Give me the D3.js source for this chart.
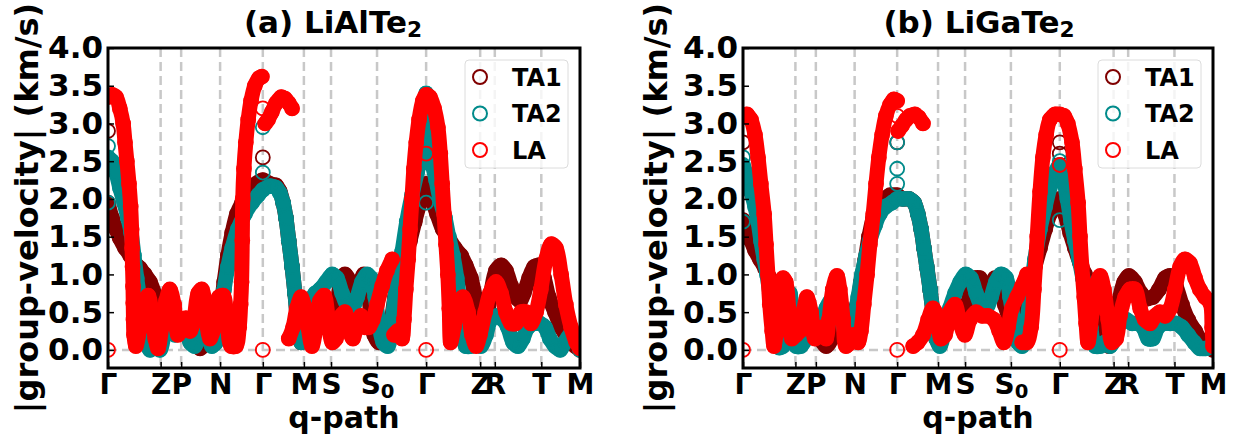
<!DOCTYPE html>
<html>
<head>
<meta charset="utf-8">
<script src="https://d3js.org/d3.v7.min.js"></script>
<style>
    body { margin: 0; background: #fff; }
    svg text { font-family: "DejaVu Sans", sans-serif; font-weight: bold; fill: #000; }
    .gridline { stroke: #c8c8c8; stroke-width: 2.5; stroke-dasharray: 9,5; }
    .axis .domain { display: none; }
    .axis line { stroke: #000; stroke-width: 1.5; }
</style>
</head>
<body>
<svg id="chart" width="1237" height="439"></svg>
<script>
// high-symmetry points along the q-path (percent of path length)
const kLabels = ["Γ", "Z", "P", "N", "Γ", "M", "S", "S_0", "Γ", "Z", "R", "T", "M"];
const kPos = [0, 11.15, 15.5, 23.75, 32.8, 41.5, 47.25, 57.0, 67.4, 78.85, 81.95, 91.8, 100];
const yTicks = [0, 0.5, 1.0, 1.5, 2.0, 2.5, 3.0, 3.5, 4.0];
const seriesNames = ["TA1", "TA2", "LA"];
const seriesColors = ["#800000", "#008b8b", "#ff0000"];

// (a) LiAlTe2 : [q, |v| km/s], null = break
const aTA1 = [[0,2.9], null,
  [0,1.95],[0.85,1.75],[1.7,1.6],[2.5,1.48],[3.6,1.35],[4.7,1.25],[5.7,1.15],[6.8,1.08],[7.8,1.0],[8.9,0.9],[10.0,0.72],[11.0,0.5],[12.1,0.35],[13.1,0.3],[14.4,0.35],[15.7,0.3],[16.9,0.2],[18.2,0.1],[19.5,0.02],[20.6,0.1],[21.4,0.4],[22.2,0.55],[23.1,0.5],[23.9,0.6],[24.6,0.9],[25.4,1.25],[26.3,1.55],[27.3,1.8],[28.4,1.95],[29.7,2.08],[30.9,2.18],[32.8,2.25],
  [34.3,2.2],[35.6,2.18],[36.4,2.1],[37.1,1.95],[37.7,1.75],[38.3,1.45],[39.0,1.1],[39.6,0.75],[40.3,0.3],[40.9,0.1],[41.7,0.35],[42.8,0.55],[44.1,0.7],[45.3,0.6],[46.6,0.3],[47.5,0.2],[48.3,0.5],[49.2,0.85],[50.2,1.0],[51.3,0.9],[52.3,0.7],[53.4,0.9],[54.2,1.0],[55.1,0.8],[55.7,0.45],[56.4,0.2],[57.4,0.1],[58.7,0.15],[59.7,0.3],[60.8,0.7],[61.9,1.0],[62.9,1.2],[64.0,1.45],[65.0,1.7],[66.1,1.95],[67.4,2.2],
  [68.6,2.0],[69.7,1.8],[70.9,1.6],[72.2,1.48],[73.5,1.35],[74.8,1.25],[75.8,1.12],[76.9,0.95],[77.8,0.7],[78.6,0.35],[79.2,0.1],[80.1,0.35],[81.1,0.75],[82.2,1.05],[83.3,1.12],[84.3,1.05],[85.4,0.85],[86.4,0.7],[87.3,0.65],[88.1,0.75],[89.2,0.95],[90.3,1.1],[91.3,1.12],[92.4,0.95],[93.4,0.7],[94.7,0.5],[96.0,0.3],[97.5,0.15],[99.0,0.05],[100,0.0], null,
  [32.8,2.55], null, [67.4,2.9], null, [67.4,2.6]];

const aTA2 = [[0,2.7], null, [0,1.95], null,
  [0,2.55],[0.85,2.5],[1.7,2.35],[2.5,2.15],[3.4,1.95],[4.2,1.75],[4.9,1.55],[5.5,1.25],[6.1,0.95],[6.8,0.65],[7.4,0.4],[8.1,0.15],[8.9,0.0],[10.0,0.05],[11.0,0.0],[12.1,0.25],[13.1,0.35],[14.2,0.2],[15.3,0.25],[16.3,0.3],[17.4,0.1],[18.4,0.05],[19.5,0.3],[20.3,0.5],[21.2,0.3],[22.0,0.05],[22.9,0.1],[23.7,0.4],[24.6,0.8],[25.4,1.1],[26.3,1.35],[27.5,1.6],[29.0,1.8],[30.5,1.95],[31.8,2.05],[32.8,2.12],
  [34.3,2.17],[35.6,2.15],[36.4,2.08],[37.1,1.95],[37.7,1.75],[38.3,1.45],[39.0,1.1],[39.6,0.75],[40.3,0.3],[40.9,0.1],[41.7,0.35],[42.8,0.65],[43.9,0.75],[44.9,0.8],[46.2,0.9],[47.5,1.0],[48.5,0.95],[49.6,0.75],[50.6,0.6],[51.7,0.55],[52.8,0.7],[53.8,0.9],[54.9,1.0],[55.7,0.95],[56.6,0.7],[57.4,0.35],[58.3,0.1],[59.3,0.05],[60.2,0.4],[61.2,0.9],[62.3,1.3],[63.3,1.7],[64.4,2.05],[65.5,2.35],[66.3,2.55],[66.9,2.9],[67.4,3.4],
  [68.0,2.9],[68.6,2.5],[69.5,2.25],[70.3,2.0],[71.4,1.75],[72.2,1.5],[73.1,1.25],[73.9,0.95],[74.6,0.6],[75.2,0.25],[75.8,0.05],[76.9,0.05],[78.0,0.15],[79.0,0.05],[80.1,0.2],[81.1,0.4],[82.4,0.45],[83.7,0.4],[84.7,0.3],[85.8,0.1],[86.9,0.05],[87.9,0.15],[89.0,0.3],[90.3,0.35],[91.5,0.35],[92.6,0.3],[93.6,0.15],[94.7,0.05],[95.8,0.0],[96.8,0.1],[97.9,0.2],[99.0,0.15],[100,0.0], null,
  [32.8,2.95], null, [32.8,2.35], null, [67.4,2.65], null, [67.4,1.95]];

const aLA = [[0,0], null,
  [0,3.35],[0.85,3.38],[1.7,3.35],[2.5,3.2],[3.2,3.0],[3.6,2.75],[4.0,2.5],[4.45,2.2],[4.8,1.9],[5.0,1.6],[5.1,1.35],[5.2,1.1],[5.3,0.84],[5.35,0.62],[5.4,0.4],[5.5,0.2],[5.9,0.05],[6.8,0.3],[7.6,0.6],[8.5,0.72],[9.3,0.5],[10.0,0.15],[10.6,0.02],[11.4,0.3],[12.3,0.65],[13.1,0.8],[14.0,0.6],[14.8,0.2],[15.7,0.3],[16.5,0.42],[17.4,0.25],[18.2,0.4],[19.1,0.75],[19.9,0.8],[20.8,0.4],[21.6,0.15],[22.5,0.3],[23.5,0.7],[24.4,0.72],[25.2,0.4],[26.1,0.05],[27.1,0.05],[27.8,0.3],[28.1,0.6],[28.3,0.9],[28.45,1.45],[28.55,2.0],[28.8,2.4],[29.2,2.75],[29.7,3.05],[30.3,3.3],[31.1,3.5],[32.0,3.6],[32.6,3.62], null,
  [32.8,0], null, [32.8,3.2], null,
  [33.3,3.0],[33.9,3.05],[34.7,3.15],[35.6,3.27],[36.7,3.35],[37.5,3.33],[38.3,3.27],[39.0,3.2], null,
  [38.3,0.15],[39.2,0.3],[40.0,0.55],[40.9,0.7],[41.5,0.6],[42.4,0.3],[43.2,0.05],[44.1,0.3],[44.9,0.65],[45.8,0.72],[46.6,0.45],[47.5,0.1],[48.3,0.15],[49.4,0.45],[50.2,0.5],[51.1,0.25],[51.9,0.15],[52.8,0.35],[53.6,0.45],[54.4,0.3],[55.3,0.3],[56.1,0.4],[57.0,0.6],[58.1,0.85],[59.1,1.05],[60.2,1.2], null,
  [60.6,0.2],[61.4,0.25],[62.3,0.15],[62.7,0.4],[63.1,0.8],[63.6,1.2],[64.0,1.6],[64.4,2.0],[64.8,2.4],[65.3,2.75],[65.9,3.05],[66.7,3.3],[67.4,3.38],[68.2,3.35],[69.1,3.2],[69.9,2.95],[70.4,2.6],[70.8,2.2],[71.2,1.8],[71.6,1.4],[72.0,1.0],[72.3,0.55],[72.6,0.1],[73.3,0.3],[74.2,0.62],[75.2,0.7],[76.3,0.5],[77.1,0.2],[78.0,0.05],[78.8,0.2],[79.9,0.5],[80.9,0.75],[82.2,0.9],[83.3,0.75],[84.3,0.5],[85.4,0.35],[86.4,0.35],[87.5,0.5],[88.6,0.5],[89.6,0.35],[90.7,0.5],[91.7,0.8],[92.8,1.2],[93.9,1.4],[94.9,1.35],[96.0,1.0],[97.0,0.6],[98.1,0.3],[99.2,0.1],[100,0.02], null,
  [67.4,0], null, [67.4,2.6]];

// (b) LiGaTe2
const bTA1 = [[0,2.75], null,
  [0,1.72],[0.85,1.6],[1.7,1.45],[2.55,1.32],[3.6,1.2],[4.7,1.08],[5.7,0.95],[6.8,0.8],[7.9,0.6],[8.9,0.4],[10.0,0.3],[11.3,0.25],[12.6,0.15],[13.8,0.25],[15.1,0.3],[16.4,0.15],[17.7,0.05],[18.9,0.15],[20.2,0.45],[21.3,0.55],[22.3,0.45],[23.4,0.4],[24.3,0.6],[25.1,0.9],[26.0,1.2],[26.8,1.5],[27.7,1.75],[28.7,1.92],[30.0,2.0],[31.3,2.05],[32.8,2.05],
  [34.0,2.0],[35.3,2.0],[36.4,1.95],[37.2,1.8],[37.9,1.6],[38.5,1.35],[39.1,1.1],[39.8,0.8],[40.4,0.5],[41.1,0.15],[41.9,0.1],[43.0,0.3],[44.0,0.5],[45.1,0.6],[46.2,0.55],[47.2,0.5],[48.3,0.75],[49.4,0.95],[50.4,0.95],[51.5,0.75],[52.6,0.8],[53.6,0.95],[54.7,0.85],[55.7,0.6],[56.8,0.4],[57.9,0.3],[59.0,0.4],[60.0,0.6],[61.1,0.85],[62.1,1.1],[63.2,1.35],[64.3,1.6],[65.3,1.8],[66.4,1.95],[67.4,2.0],
  [68.5,1.8],[69.6,1.55],[70.6,1.35],[71.7,1.15],[72.8,1.0],[73.6,0.85],[74.7,0.65],[75.7,0.45],[76.8,0.2],[77.9,0.05],[78.9,0.3],[80.0,0.65],[81.1,0.9],[82.1,0.98],[83.4,0.9],[84.7,0.75],[86.0,0.68],[87.2,0.7],[88.5,0.8],[89.8,0.95],[90.9,0.98],[92.1,0.85],[93.4,0.6],[94.7,0.4],[96.2,0.25],[97.7,0.1],[100,0.0], null,
  [32.8,2.75], null, [67.4,2.75], null, [67.4,2.6]];

const bTA2 = [[0,2.55], null, [0,1.7], null,
  [0,2.45],[0.85,2.3],[1.7,2.1],[2.55,1.9],[3.2,1.7],[3.8,1.45],[4.5,1.2],[5.1,1.0],[5.7,0.75],[6.4,0.5],[7.0,0.2],[7.7,0.03],[8.5,0.05],[9.4,0.6],[10.0,0.75],[10.6,0.3],[11.3,0.05],[12.3,0.05],[13.4,0.15],[14.5,0.3],[15.5,0.2],[16.6,0.35],[17.7,0.55],[18.7,0.65],[19.8,0.6],[20.9,0.4],[21.9,0.2],[22.8,0.15],[23.6,0.35],[24.5,0.7],[25.3,1.0],[26.2,1.25],[27.0,1.45],[28.1,1.65],[29.1,1.8],[30.4,1.9],[31.7,1.95],[32.8,2.0],
  [34.0,2.0],[35.3,2.0],[36.4,1.95],[37.2,1.8],[37.9,1.6],[38.5,1.35],[39.1,1.1],[39.8,0.8],[40.4,0.5],[41.1,0.15],[41.9,0.05],[43.0,0.3],[44.0,0.55],[45.1,0.75],[46.2,0.9],[47.4,1.0],[48.5,0.95],[49.6,0.75],[50.6,0.6],[51.7,0.55],[52.8,0.7],[53.8,0.9],[54.9,1.0],[56.0,0.95],[56.8,0.7],[57.7,0.35],[58.5,0.1],[59.4,0.05],[60.2,0.3],[61.1,0.7],[62.1,1.2],[63.2,1.6],[64.3,1.9],[65.3,2.15],[66.4,2.35],[67.4,2.45],
  [68.1,2.3],[69.0,2.0],[69.8,1.7],[70.6,1.45],[71.5,1.2],[72.3,0.95],[73.2,0.65],[74.0,0.3],[74.9,0.05],[76.0,0.05],[77.0,0.1],[78.1,0.05],[79.1,0.15],[80.2,0.35],[81.5,0.4],[82.8,0.35],[84.0,0.35],[85.1,0.3],[86.2,0.15],[87.2,0.15],[88.3,0.3],[89.6,0.35],[90.9,0.35],[92.1,0.35],[93.4,0.3],[94.7,0.2],[96.0,0.1],[97.2,0.02],[98.5,0.02],[100,0.05], null,
  [32.8,2.75], null, [32.8,2.4], null, [32.8,2.2], null, [67.4,2.5], null, [67.4,1.72]];

const bLA = [[0,0], null,
  [0,3.1],[0.85,3.12],[1.7,3.05],[2.55,2.85],[3.2,2.55],[3.8,2.2],[4.5,1.8],[4.9,1.4],[5.3,1.0],[5.7,0.6],[6.2,0.25],[6.6,0.05],[7.2,0.3],[7.9,0.7],[8.5,0.95],[9.1,0.9],[9.8,0.5],[10.4,0.15],[11.3,0.2],[12.1,0.25],[13.0,0.55],[13.6,0.7],[14.5,0.5],[15.3,0.15],[16.2,0.2],[17.0,0.3],[17.7,0.15],[18.3,0.4],[19.1,0.8],[20.0,0.98],[20.6,0.8],[21.3,0.4],[21.9,0.05],[22.8,0.1],[23.6,0.2],[24.5,0.1],[25.1,0.25],[25.7,0.6],[26.4,1.0],[27.0,1.4],[27.7,1.8],[28.3,2.2],[28.9,2.55],[29.6,2.85],[30.4,3.1],[31.3,3.25],[32.1,3.32],[32.8,3.3], null,
  [32.8,0], null, [32.8,3.1], null,
  [33.0,2.9],[33.8,2.97],[34.7,3.05],[35.5,3.1],[36.6,3.12],[37.4,3.08],[38.3,3.0], null,
  [36.2,0.05],[37.2,0.1],[38.3,0.2],[39.4,0.4],[40.4,0.55],[41.3,0.45],[42.1,0.15],[43.0,0.2],[44.0,0.5],[45.1,0.6],[46.2,0.35],[47.2,0.2],[48.3,0.4],[49.6,0.5],[50.9,0.45],[52.1,0.45],[53.4,0.4],[54.5,0.25],[55.5,0.1],[56.4,0.3],[57.2,0.55],[58.3,0.7],[59.4,0.85],[60.4,1.0], null,
  [59.4,0.1],[60.4,0.1],[61.3,0.3],[61.9,0.8],[62.6,1.5],[63.2,2.1],[63.8,2.55],[64.5,2.85],[65.3,3.05],[66.4,3.12],[67.4,3.12],[68.3,3.1],[69.1,3.0],[70.0,2.75],[70.6,2.4],[71.3,1.95],[71.7,1.5],[72.1,1.1],[72.6,0.7],[73.0,0.35],[73.4,0.1],[74.3,0.5],[75.1,0.85],[76.0,0.98],[76.8,0.8],[77.7,0.4],[78.5,0.1],[79.4,0.15],[80.2,0.45],[81.3,0.7],[82.3,0.8],[83.4,0.8],[84.5,0.55],[85.5,0.4],[86.6,0.35],[87.7,0.45],[88.7,0.5],[89.8,0.45],[90.9,0.55],[91.9,0.8],[93.0,1.1],[94.0,1.2],[95.1,1.15],[96.2,0.95],[97.2,0.8],[98.3,0.7],[99.4,0.62],[99.8,0.3],[100,0.05], null,
  [67.4,0], null, [67.4,2.45]];

const panels = [
    { title: "(a) LiAlTe_2", left: 108, right: 580, titleX: 333, ylabX: 38, data: [aTA1, aTA2, aLA] },
    { title: "(b) LiGaTe_2", left: 743, right: 1213, titleX: 979, ylabX: 667, data: [bTA1, bTA2, bLA] }
];

const svg = d3.select("#chart");
const plotTop = 48, plotBottom = 368;

// put "_x" parts in a lowered, smaller tspan
function subText(sel, label, size) {
    const parts = label.split("_");
    sel.text(null);
    sel.append("tspan").text(parts[0]);
    if (parts.length > 1) {
        sel.append("tspan").attr("font-size", size * 0.7).attr("dy", size * 0.13).text(parts[1]);
    }
}

function splitSegments(arr) {
    const segs = [];
    let cur = [];
    arr.forEach(p => {
        if (p === null) { if (cur.length) segs.push(cur); cur = []; }
        else cur.push(p);
    });
    if (cur.length) segs.push(cur);
    return segs;
}

panels.forEach((p, pi) => {
    const w = p.right - p.left, h = plotBottom - plotTop;
    const g = svg.append("g").attr("transform", `translate(${p.left},${plotTop})`);

    const x = d3.scaleLinear().domain([0, 100]).range([0, w]);
    const y = d3.scaleLinear().domain([-0.24, 4.0]).range([h, 0]);

    g.append("clipPath").attr("id", "clip" + pi)
        .append("rect").attr("width", w).attr("height", h);

    // dashed guide lines
    g.selectAll("line.vgrid").data(kPos.slice(1, -1)).join("line")
        .attr("class", "gridline")
        .attr("x1", d => x(d)).attr("x2", d => x(d))
        .attr("y1", 0).attr("y2", h);
    g.append("line").attr("class", "gridline")
        .attr("x1", 0).attr("x2", w)
        .attr("y1", y(0)).attr("y2", y(0));

    const plot = g.append("g").attr("clip-path", `url(#clip${pi})`);
    const line = d3.line()
        .x(d => x(d[0]))
        .y(d => y(d[1]))
        .curve(d3.curveCatmullRom.alpha(0.5));

    p.data.forEach((series, si) => {
        const col = seriesColors[si];
        const segs = splitSegments(series).filter(s => s.length > 1);
        plot.selectAll(null).data(segs).join("path")
            .attr("d", line)
            .attr("fill", "none")
            .attr("stroke", col)
            .attr("stroke-width", 15)
            .attr("stroke-linecap", "round")
            .attr("stroke-linejoin", "round");
        plot.selectAll(null).data(series.filter(d => d !== null)).join("circle")
            .attr("cx", d => x(d[0]))
            .attr("cy", d => y(d[1]))
            .attr("r", 7)
            .attr("fill", "none")
            .attr("stroke", col)
            .attr("stroke-width", 1.8);
    });

    // axes, ticks pointing inwards
    const yAxis = d3.axisLeft(y).tickValues(yTicks).tickFormat(d3.format(".1f"))
        .tickSizeInner(-6).tickSizeOuter(0).tickPadding(5);
    const yg = g.append("g").attr("class", "axis").call(yAxis);
    yg.selectAll("text").attr("font-size", 31).attr("font-family", null);

    const xAxis = d3.axisBottom(x).tickValues(kPos).tickFormat((d, i) => kLabels[i])
        .tickSizeInner(-6).tickSizeOuter(0).tickPadding(6);
    const xg = g.append("g").attr("class", "axis").attr("transform", `translate(0,${h})`).call(xAxis);
    xg.selectAll("text").attr("font-size", 28).attr("font-family", null)
        .each(function(d, i) { subText(d3.select(this), kLabels[i], 28); });

    g.append("rect")
        .attr("width", w).attr("height", h)
        .attr("fill", "none").attr("stroke", "#000").attr("stroke-width", 3);

    // legend
    const lg = g.append("g").attr("transform", `translate(${w - 115},12)`);
    lg.append("rect").attr("width", 103).attr("height", 108).attr("rx", 4)
        .attr("fill", "#fff").attr("fill-opacity", 0.8)
        .attr("stroke", "#dcdcdc").attr("stroke-width", 1);
    seriesNames.forEach((name, si) => {
        const ry = 17 + si * 36.5;
        lg.append("circle").attr("cx", 15).attr("cy", ry).attr("r", 7)
            .attr("fill", "none").attr("stroke", seriesColors[si]).attr("stroke-width", 2);
        lg.append("text").attr("x", 47).attr("y", ry).attr("dy", "0.36em")
            .attr("font-size", 24).text(name);
    });

    // titles and axis labels
    const t = svg.append("text").attr("x", p.titleX).attr("y", 33)
        .attr("text-anchor", "middle").attr("font-size", 31);
    subText(t, p.title, 31);

    svg.append("text").attr("x", (p.left + p.right) / 2).attr("y", 428)
        .attr("text-anchor", "middle").attr("font-size", 30).text("q-path");

    svg.append("text")
        .attr("transform", `translate(${p.ylabX},${(plotTop + plotBottom) / 2}) rotate(-90)`)
        .attr("text-anchor", "middle").attr("font-size", 32)
        .text("|group-velocity| (km/s)");
});
</script>
</body>
</html>
